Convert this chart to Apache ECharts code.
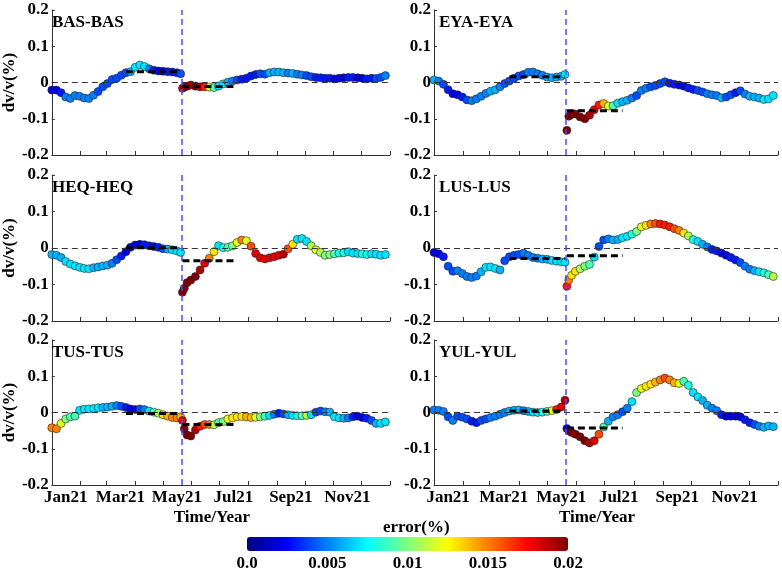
<!DOCTYPE html>
<html>
<head>
<meta charset="utf-8">
<script src="https://cdn.jsdelivr.net/npm/echarts@6/dist/echarts.min.js"></script>
<style>
  html, body { margin: 0; padding: 0; background: #fff; }
  #main { width: 782px; height: 572px; }
</style>
</head>
<body>
<div id="main"></div>
<script>
// sample days (day 0 = 1 Jan 2021), shared by every station
const days = [
  0, 5, 10, 15, 20, 25, 30, 35, 40, 45, 50, 55, 60, 65, 70, 75, 80, 85, 90, 95, 100, 105, 110, 115, 120, 125, 130, 135, 139,
  141, 143, 146, 150, 155, 160, 165, 170, 175, 180, 185, 190, 195, 200, 205, 210, 215, 220, 225, 230, 235, 240, 245, 250,
  255, 260, 265, 270, 275, 280, 285, 290, 295, 300, 305, 310, 315, 320, 325, 330, 335, 340, 345, 350, 355, 360
];

const stations = ['BAS-BAS', 'EYA-EYA', 'HEQ-HEQ', 'LUS-LUS', 'TUS-TUS', 'YUL-YUL'];

// dv/v (%)
const dvBAS = [
  -0.021, -0.021, -0.028, -0.04, -0.044, -0.036, -0.038, -0.043, -0.044, -0.035, -0.025, -0.012, -0.003, 0.008, 0.012, 0.02, 0.027, 0.03, 0.042, 0.048, 0.044, 0.038, 0.034, 0.032, 0.031, 0.03, 0.029, 0.027, 0.024,
  -0.016, -0.013, -0.01, -0.007, -0.01, -0.012, -0.012, -0.013, -0.014, -0.01, -0.004, 0.001, 0.004, 0.007, 0.009, 0.012, 0.018, 0.022, 0.024, 0.023, 0.027, 0.029, 0.029, 0.027,
  0.026, 0.025, 0.023, 0.021, 0.019, 0.016, 0.014, 0.013, 0.012, 0.012, 0.01, 0.012, 0.013, 0.014, 0.014, 0.013, 0.012, 0.01, 0.012, 0.011, 0.014, 0.019
];
const dvEYA = [
  0.007, 0.004, -0.005, -0.02, -0.031, -0.034, -0.04, -0.048, -0.05, -0.045, -0.038, -0.03, -0.024, -0.02, -0.012, -0.003, 0.004, 0.012, 0.018, 0.022, 0.028, 0.029, 0.024, 0.02, 0.015, 0.013, 0.015, 0.017, 0.022,
  -0.132, -0.093, -0.088, -0.087, -0.095, -0.1, -0.09, -0.075, -0.062, -0.058, -0.065, -0.064, -0.057, -0.053, -0.049, -0.043, -0.036, -0.022, -0.016, -0.012, -0.008, -0.003, 0.002, -0.002,
  -0.005, -0.007, -0.01, -0.015, -0.019, -0.022, -0.026, -0.031, -0.034, -0.036, -0.042, -0.04, -0.034, -0.028, -0.023, -0.032, -0.038, -0.04, -0.043, -0.047, -0.045, -0.036
];
const dvHEQ = [
  -0.018, -0.02, -0.026, -0.037, -0.044, -0.049, -0.053, -0.056, -0.057, -0.054, -0.052, -0.049, -0.047, -0.042, -0.032, -0.022, -0.01, 0.002, 0.008, 0.01, 0.009, 0.006, 0.004, 0.002, -0.002, -0.003, -0.005, -0.008, -0.012,
  -0.121, -0.11, -0.095, -0.088, -0.078, -0.06, -0.042, -0.028, -0.01, 0.006, 0.001, 0.002, 0.006, 0.015, 0.022, 0.02, 0.005, -0.015, -0.027, -0.03, -0.027, -0.024, -0.02, -0.017,
  -0.002, 0.01, 0.024, 0.026, 0.018, 0.006, -0.005, -0.012, -0.02, -0.018, -0.016, -0.014, -0.013, -0.01, -0.014, -0.015, -0.016, -0.018, -0.016, -0.017, -0.02, -0.018
];
const dvLUS = [
  -0.012, -0.016, -0.024, -0.05, -0.064, -0.062, -0.07, -0.078, -0.081, -0.077, -0.065, -0.053, -0.052, -0.056, -0.06, -0.035, -0.024, -0.02, -0.018, -0.014, -0.02, -0.026, -0.028, -0.03, -0.031, -0.034, -0.036, -0.038, -0.039,
  -0.105, -0.088, -0.075, -0.064, -0.057, -0.05, -0.045, -0.025, 0.004, 0.022, 0.025, 0.022, 0.023, 0.028, 0.032, 0.038, 0.045, 0.058, 0.062, 0.066, 0.067, 0.066, 0.063, 0.058,
  0.053, 0.048, 0.041, 0.033, 0.023, 0.018, 0.01, 0.003, -0.004, -0.008, -0.014, -0.02, -0.026, -0.033, -0.04, -0.05, -0.058, -0.062, -0.065, -0.068, -0.073, -0.078
];
const dvTUS = [
  -0.042, -0.045, -0.03, -0.018, -0.012, -0.01, 0.006, 0.009, 0.01, 0.011, 0.013, 0.014, 0.015, 0.017, 0.019, 0.017, 0.014, 0.01, 0.008, 0.01, 0.008, 0.004, 0.001, -0.002, -0.006, -0.01, -0.014, -0.015, -0.012,
  -0.022, -0.045, -0.062, -0.065, -0.048, -0.038, -0.033, -0.033, -0.034, -0.028, -0.025, -0.018, -0.015, -0.012, -0.011, -0.012, -0.014, -0.013, -0.012, -0.01, -0.008, -0.005, -0.002, -0.004,
  -0.006, -0.008, -0.009, -0.009, -0.008, -0.006, 0.001, 0.004, 0.002, 0.001, -0.012, -0.015, -0.016, -0.015, -0.012, -0.01, -0.014, -0.016, -0.022, -0.03, -0.03, -0.026
];
const dvYUL = [
  0.007, 0.006, 0.003, -0.012, -0.022, -0.01, -0.013, -0.018, -0.024, -0.028, -0.022, -0.018, -0.014, -0.01, -0.005, 0, 0.004, 0.006, 0.007, 0.005, 0.003, 0.001, 0, 0.001, 0.003, 0.005, 0.008, 0.015, 0.034,
  -0.044, -0.05, -0.055, -0.06, -0.067, -0.078, -0.084, -0.078, -0.06, -0.04, -0.024, -0.012, -0.006, 0.002, 0.012, 0.03, 0.055, 0.066, 0.072, 0.078, 0.084, 0.09, 0.095, 0.09,
  0.082, 0.08, 0.086, 0.075, 0.055, 0.043, 0.033, 0.02, 0.012, 0.005, -0.006, -0.01, -0.01, -0.01, -0.012, -0.02, -0.028, -0.033, -0.038, -0.041, -0.037, -0.039
];

// error (%)
const errBAS = [
  0.002, 0.002, 0.003, 0.005, 0.005, 0.005, 0.005, 0.005, 0.005, 0.005, 0.004, 0.004, 0.004, 0.004, 0.004, 0.004, 0.004, 0.006, 0.007, 0.007, 0.007, 0.005, 0.003, 0.002, 0.002, 0.003, 0.003, 0.003, 0.004,
  0.018, 0.019, 0.02, 0.019, 0.02, 0.019, 0.017, 0.012, 0.009, 0.007, 0.007, 0.006, 0.005, 0.004, 0.003, 0.003, 0.003, 0.003, 0.004, 0.004, 0.006, 0.006, 0.006, 0.006,
  0.005, 0.006, 0.005, 0.005, 0.004, 0.004, 0.003, 0.003, 0.003, 0.003, 0.002, 0.002, 0.002, 0.003, 0.003, 0.002, 0.002, 0.003, 0.003, 0.004, 0.004, 0.005
];
const errEYA = [
  0.006, 0.005, 0.004, 0.003, 0.002, 0.002, 0.003, 0.004, 0.005, 0.005, 0.005, 0.005, 0.006, 0.006, 0.005, 0.004, 0.004, 0.004, 0.004, 0.004, 0.005, 0.005, 0.005, 0.005, 0.006, 0.006, 0.006, 0.006, 0.007,
  0.02, 0.02, 0.02, 0.02, 0.02, 0.02, 0.019, 0.018, 0.017, 0.014, 0.012, 0.009, 0.007, 0.006, 0.006, 0.005, 0.004, 0.005, 0.005, 0.004, 0.004, 0.004, 0.004, 0.003,
  0.003, 0.002, 0.002, 0.003, 0.003, 0.004, 0.004, 0.005, 0.005, 0.005, 0.006, 0.004, 0.004, 0.003, 0.004, 0.005, 0.006, 0.006, 0.006, 0.007, 0.007, 0.007
];
const errHEQ = [
  0.006, 0.006, 0.006, 0.007, 0.007, 0.007, 0.007, 0.007, 0.007, 0.006, 0.006, 0.006, 0.006, 0.005, 0.004, 0.003, 0.002, 0.002, 0.002, 0.002, 0.003, 0.003, 0.002, 0.003, 0.004, 0.006, 0.007, 0.007, 0.007,
  0.02, 0.02, 0.02, 0.02, 0.02, 0.019, 0.018, 0.015, 0.013, 0.007, 0.008, 0.009, 0.01, 0.012, 0.015, 0.012, 0.016, 0.018, 0.018, 0.018, 0.018, 0.018, 0.018, 0.019,
  0.016, 0.013, 0.007, 0.007, 0.007, 0.011, 0.012, 0.011, 0.01, 0.01, 0.009, 0.008, 0.008, 0.007, 0.007, 0.007, 0.008, 0.008, 0.007, 0.007, 0.007, 0.007
];
const errLUS = [
  0.002, 0.002, 0.003, 0.004, 0.004, 0.005, 0.005, 0.005, 0.005, 0.005, 0.006, 0.007, 0.007, 0.007, 0.006, 0.004, 0.004, 0.004, 0.004, 0.005, 0.005, 0.005, 0.005, 0.006, 0.006, 0.007, 0.007, 0.007, 0.007,
  0.017, 0.015, 0.013, 0.013, 0.011, 0.01, 0.009, 0.007, 0.004, 0.004, 0.005, 0.006, 0.006, 0.007, 0.007, 0.008, 0.01, 0.012, 0.013, 0.015, 0.016, 0.017, 0.017, 0.017,
  0.016, 0.015, 0.013, 0.011, 0.008, 0.007, 0.006, 0.005, 0.003, 0.003, 0.002, 0.002, 0.003, 0.003, 0.004, 0.005, 0.005, 0.006, 0.007, 0.008, 0.009, 0.011
];
const errTUS = [
  0.015, 0.015, 0.012, 0.01, 0.009, 0.009, 0.007, 0.007, 0.007, 0.007, 0.007, 0.006, 0.006, 0.006, 0.005, 0.004, 0.003, 0.002, 0.002, 0.004, 0.005, 0.007, 0.009, 0.011, 0.013, 0.014, 0.015, 0.015, 0.014,
  0.018, 0.02, 0.02, 0.02, 0.019, 0.017, 0.016, 0.015, 0.011, 0.009, 0.01, 0.012, 0.013, 0.013, 0.013, 0.014, 0.014, 0.012, 0.01, 0.009, 0.007, 0.005, 0.003, 0.004,
  0.006, 0.007, 0.008, 0.009, 0.011, 0.007, 0.004, 0.004, 0.005, 0.006, 0.007, 0.007, 0.006, 0.005, 0.003, 0.002, 0.002, 0.003, 0.004, 0.006, 0.007, 0.007
];
const errYUL = [
  0.005, 0.005, 0.005, 0.004, 0.005, 0.004, 0.004, 0.004, 0.003, 0.003, 0.004, 0.004, 0.005, 0.005, 0.005, 0.005, 0.006, 0.006, 0.006, 0.005, 0.006, 0.007, 0.007, 0.008, 0.009, 0.012, 0.017, 0.018, 0.019,
  0.002, 0.02, 0.02, 0.02, 0.02, 0.02, 0.019, 0.018, 0.016, 0.009, 0.006, 0.005, 0.005, 0.004, 0.005, 0.007, 0.01, 0.012, 0.013, 0.013, 0.014, 0.015, 0.016, 0.015,
  0.014, 0.012, 0.009, 0.008, 0.007, 0.007, 0.006, 0.006, 0.005, 0.005, 0.003, 0.002, 0.002, 0.002, 0.002, 0.003, 0.003, 0.004, 0.005, 0.006, 0.006, 0.006
];

const dvAll = [dvBAS, dvEYA, dvHEQ, dvLUS, dvTUS, dvYUL];
const errAll = [errBAS, errEYA, errHEQ, errLUS, errTUS, errYUL];

// mean dv/v two months before and after the quake
const meanPre = [0.03, 0.016, 0.001, -0.029, -0.003, 0.004];
const meanPost = [-0.011, -0.078, -0.035, -0.021, -0.033, -0.043];
const preSpan = [80, 139];
const postSpan = [141, 200];
const quakeDay = 140;

// axes
const monthStarts = [0, 31, 59, 90, 120, 151, 181, 212, 243, 273, 304, 334, 365];
const monthLabelDays = [15, 74, 135, 196, 258, 319];
const monthLabels = ['Jan21', 'Mar21', 'May21', 'Jul21', 'Sep21', 'Nov21'];
const errTicks = [0, 0.005, 0.01, 0.015, 0.02];
const jet = ['#00007f', '#0000ff', '#007fff', '#00ffff', '#7fff7f', '#ffff00', '#ff7f00', '#ff0000', '#7f0000'];

const FONT = 'Liberation Serif';
const txt = { fontFamily: FONT, fontWeight: 'bold', fontSize: 17, color: '#000' };

let myChart = echarts.init(document.getElementById('main'), null, { renderer: 'canvas' });

// panel boxes
const colLeft = [47, 434];
const colWidth = [343, 344];
const rowTop = [10, 175, 340];
const rowHeight = [145, 146, 145];

let grids = [], xAxes = [], yAxes = [], series = [], titles = [], scatterIdx = [];

stations.forEach((name, k) => {
    let row = Math.floor(k / 2), col = k % 2;
    let isBottom = row === 2;
    grids.push({ left: colLeft[col], top: rowTop[row], width: colWidth[col], height: rowHeight[row] });
    xAxes.push({
        gridIndex: k, type: 'value', min: 0, max: 365,
        axisLine: { show: true, onZero: false, lineStyle: { color: '#333', width: 1 } },
        axisTick: { show: true, inside: true, length: 4, customValues: monthStarts, lineStyle: { color: '#333' } },
        axisLabel: {
            show: isBottom, customValues: monthLabelDays, margin: 4, ...txt,
            formatter: (v) => monthLabels[monthLabelDays.indexOf(v)] || ''
        },
        splitLine: { show: false },
        name: isBottom ? 'Time/Year' : '',
        nameLocation: 'middle', nameGap: 24,
        nameTextStyle: { ...txt, padding: [0, 18, 0, 0] }
    });
    yAxes.push({
        gridIndex: k, type: 'value', min: -0.2, max: 0.2, interval: 0.1,
        axisLine: { show: true, lineStyle: { color: '#333', width: 1 } },
        axisTick: { show: true, inside: true, length: 3, lineStyle: { color: '#333' } },
        axisLabel: {
            margin: 3, ...txt,
            formatter: (v) => Math.abs(v) < 1e-9 ? '0' : v.toFixed(1)
        },
        splitLine: { show: false },
        name: col === 0 ? 'dv/v(%)' : '',
        nameLocation: 'middle', nameRotate: 90, nameGap: 29,
        nameTextStyle: txt
    });
    titles.push({
        text: name, left: colLeft[col] + 5, top: rowTop[row] + 4, padding: 0,
        textStyle: txt
    });

    // zero line + quake line
    series.push({
        type: 'line', xAxisIndex: k, yAxisIndex: k, data: [], silent: true,
        markLine: {
            silent: true, symbol: 'none', label: { show: false }, animation: false,
            data: [
                { yAxis: 0, lineStyle: { color: '#333', width: 1, type: [6, 4] } },
                { xAxis: quakeDay, lineStyle: { color: '#4a4aff', width: 1.5, type: [6, 4] } }
            ]
        }
    });

    scatterIdx.push(series.length);
    series.push({
        type: 'scatter', xAxisIndex: k, yAxisIndex: k, symbol: 'circle', symbolSize: 8,
        itemStyle: { borderColor: '#222', borderWidth: 0.6, opacity: 1 },
        data: days.map((d, i) => [d, dvAll[k][i], errAll[k][i]]),
        z: 3
    });

    series.push({
        type: 'line', xAxisIndex: k, yAxisIndex: k, symbol: 'none', silent: true,
        data: [[preSpan[0], meanPre[k]], [preSpan[1], meanPre[k]]],
        lineStyle: { color: '#000', width: 3, type: [7, 4] }, z: 5
    });
    series.push({
        type: 'line', xAxisIndex: k, yAxisIndex: k, symbol: 'none', silent: true,
        data: [[postSpan[0], meanPost[k]], [postSpan[1], meanPost[k]]],
        lineStyle: { color: '#000', width: 3, type: [7, 4] }, z: 5
    });
});

// colour bar tick labels
grids.push({ left: 247, top: 551, width: 321, height: 1 });
xAxes.push({
    gridIndex: 6, type: 'value', min: 0, max: 0.02, interval: 0.005,
    axisLine: { show: false }, axisTick: { show: false }, splitLine: { show: false },
    axisLabel: { margin: 4, ...txt, formatter: (v) => v === 0 ? '0.0' : String(+v.toFixed(3)) }
});
yAxes.push({ gridIndex: 6, type: 'value', show: false });
series.push({ type: 'scatter', xAxisIndex: 6, yAxisIndex: 6, data: [] });

titles.push({ text: 'error(%)', left: 383, top: 519, padding: 0, textStyle: txt });

let option = {
    backgroundColor: '#fff',
    animation: false,
    title: titles,
    grid: grids,
    xAxis: xAxes,
    yAxis: yAxes,
    visualMap: {
        type: 'continuous', min: errTicks[0], max: errTicks[errTicks.length - 1], dimension: 2,
        seriesIndex: scatterIdx, orient: 'horizontal', left: 247, top: 537,
        itemWidth: 14, itemHeight: 321, calculable: false, padding: 0,
        text: null, showLabel: false, hoverLink: false,
        inRange: { color: jet },
        borderColor: '#333', borderWidth: 0
    },
    series: series
};

myChart.setOption(option);
</script>
</body>
</html>
